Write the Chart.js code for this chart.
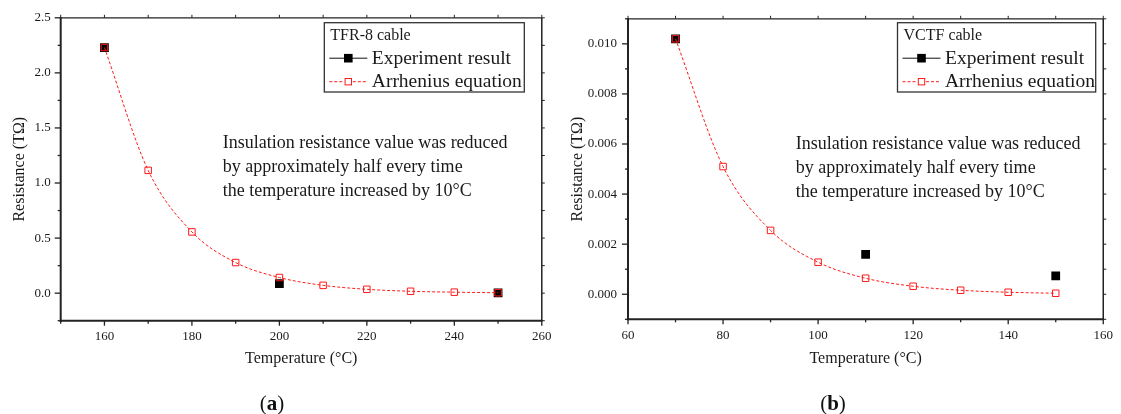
<!DOCTYPE html>
<html><head><meta charset="utf-8">
<script src="https://cdn.jsdelivr.net/npm/chart.js@4.4.1/dist/chart.umd.min.js"></script>
<style>
html,body{margin:0;padding:0;background:#fff;width:1121px;height:414px;overflow:hidden;}
#wrap{position:relative;width:1121px;height:414px;background:#fff;}
canvas{position:absolute;top:0;}
.cap{position:absolute;font-family:"Liberation Serif","Times New Roman",serif;font-size:21px;color:#111;transform:translate(-50%,-50%);white-space:nowrap;}
.cap b{font-weight:bold;}
</style></head><body>
<div id="wrap">
<canvas id="ca" width="560" height="414" style="left:0"></canvas>
<canvas id="cb" width="561" height="414" style="left:560px"></canvas>
<div class="cap" id="capA" style="left:272px;top:403px"></div>
<div class="cap" id="capB" style="left:833px;top:403px"></div>
</div>
<script>
// ---------- data ----------
const seriesNames = ['Experiment result', 'Arrhenius equation'];
const xTitle = 'Temperature (\u00B0C)';
const yTitle = 'Resistance (T\u03A9)';
const noteLines = ['Insulation resistance value was reduced', 'by approximately half every time', 'the temperature increased by 10\u00B0C'];

// (a) TFR-8 cable
const titleA = 'TFR-8 cable';
const captionA = 'a';
const tempsA = [160, 170, 180, 190, 200, 210, 220, 230, 240, 250];
const arrheniusA = [2.23, 1.115, 0.556, 0.278, 0.142, 0.071, 0.035, 0.017, 0.009, 0.004];
const expTempsA = [160, 200, 250];
const expA = [2.23, 0.087, 0.002];
const xTicksA = [160, 180, 200, 220, 240, 260];
const yTicksA = [0.0, 0.5, 1.0, 1.5, 2.0, 2.5];

// (b) VCTF cable
const titleB = 'VCTF cable';
const captionB = 'b';
const tempsB = [70, 80, 90, 100, 110, 120, 130, 140, 150];
const arrheniusB = [0.0102, 0.0051, 0.00255, 0.00128, 0.00064, 0.00032, 0.00016, 0.00008, 0.00004];
const expTempsB = [70, 110, 150];
const expB = [0.0102, 0.00159, 0.00073];
const xTicksB = [60, 80, 100, 120, 140, 160];
const yTicksB = [0.000, 0.002, 0.004, 0.006, 0.008, 0.010];

// ---------- rendering ----------
const FAM = '"Liberation Serif", "Times New Roman", serif';
const INK = '#1a1a1a';
const RED = '#ff1a1a';

document.getElementById('capA').innerHTML = '(<b>' + captionA + '</b>)';
document.getElementById('capB').innerHTML = '(<b>' + captionB + '</b>)';

function minorsOf(ticks) {
  const step = ticks[1] - ticks[0];
  const out = [];
  for (let i = -1; i < ticks.length; i++) {
    const base = i < 0 ? ticks[0] - step : ticks[i];
    out.push(base + step / 2);
  }
  return out;
}

const decor = {
  id: 'decor',
  afterDraw(chart, args, o) {
    const ctx = chart.ctx, a = chart.chartArea;
    const xs = chart.scales.x, ys = chart.scales.y;
    const inX = v => v >= xs.min - 1e-9 && v <= xs.max + 1e-9;
    const inY = v => v >= ys.min - 1e-12 && v <= ys.max + 1e-12;
    ctx.save();
    ctx.strokeStyle = '#222';
    function seg(x1, y1, x2, y2, w) {
      ctx.lineWidth = w; ctx.beginPath(); ctx.moveTo(x1, y1); ctx.lineTo(x2, y2); ctx.stroke();
    }
    // frame
    seg(a.left, a.top, a.right, a.top, 1.3);
    seg(a.right, a.top, a.right, a.bottom, 1.5);
    seg(a.left, a.top - 0.6, a.left, a.bottom + 1, 2);
    seg(a.left - 1, a.bottom, a.right + 0.7, a.bottom, 2);
    // x ticks
    o.xMajor.filter(inX).forEach(v => {
      const p = xs.getPixelForValue(v);
      seg(p, a.bottom, p, a.bottom + 5, 1.3);
      seg(p, a.top, p, a.top - 3, 1);
    });
    minorsOf(o.xMajor).filter(inX).forEach(v => {
      const p = xs.getPixelForValue(v);
      seg(p, a.bottom, p, a.bottom + 3, 1.3);
      seg(p, a.top, p, a.top - 3, 1);
    });
    // y ticks
    o.yMajor.filter(inY).forEach(v => {
      const p = ys.getPixelForValue(v);
      seg(a.left, p, a.left - 6, p, 1.3);
      seg(a.right, p, a.right + 3, p, 1);
    });
    minorsOf(o.yMajor).filter(inY).forEach(v => {
      const p = ys.getPixelForValue(v);
      seg(a.left, p, a.left - 3, p, 1.3);
      seg(a.right, p, a.right + 3, p, 1);
    });
    // annotation text
    ctx.fillStyle = INK;
    ctx.font = '18px ' + FAM;
    ctx.textBaseline = 'alphabetic';
    ctx.textAlign = 'left';
    o.note.forEach((t, i) => ctx.fillText(t, a.left + o.noteDx, o.noteY + i * 24));
    // legend box
    const [bx, by, bw, bh] = o.box;
    ctx.lineWidth = 1.3; ctx.strokeStyle = '#333';
    ctx.strokeRect(bx, by, bw, bh);
    ctx.font = '16px ' + FAM;
    ctx.fillText(o.title, bx + 6, by + 17.5);
    const ds = chart.data.datasets;
    const exp = ds.find(d => d.label === seriesNames[0]);
    const arr = ds.find(d => d.label === seriesNames[1]);
    // row 1 experiment
    let cy = by + 35.5;
    ctx.strokeStyle = '#111'; ctx.lineWidth = 1;
    seg(bx + 5, cy, bx + 43, cy, 1);
    ctx.fillStyle = '#000'; ctx.fillRect(bx + 24 - 4.3, cy - 4.3, 8.6, 8.6);
    ctx.fillStyle = INK; ctx.font = '19.5px ' + FAM;
    ctx.fillText(exp.label, bx + 47.5, cy + 5.5);
    // row 2 arrhenius
    cy = by + 59;
    ctx.strokeStyle = RED; ctx.setLineDash([3, 2]);
    seg(bx + 5, cy, bx + 19.5, cy, 1);
    seg(bx + 28.5, cy, bx + 43, cy, 1);
    ctx.setLineDash([]);
    ctx.strokeRect(bx + 24 - 3.2, cy - 3.2, 6.4, 6.4);
    ctx.fillStyle = INK;
    ctx.fillText(arr.label, bx + 47.5, cy + 5.5);
    ctx.restore();
  }
};

function makeChart(id, c) {
  const pts = (xs, ys) => xs.map((t, i) => ({x: t, y: ys[i]}));
  return new Chart(document.getElementById(id), {
    type: 'line',
    data: {
      datasets: [
        {
          label: seriesNames[1], data: pts(c.temps, c.arr), order: 0,
          borderColor: RED, borderWidth: 1, borderDash: [3, 2], fill: false,
          cubicInterpolationMode: 'monotone',
          pointStyle: 'rect', pointRadius: 4.6, pointBorderWidth: 1,
          pointBorderColor: RED, pointBackgroundColor: 'rgba(255,255,255,0)'
        },
        {
          label: seriesNames[0], data: pts(c.expT, c.exp), order: 1, showLine: false,
          pointStyle: 'rect', pointRadius: 6.2, pointBorderWidth: 0,
          pointBackgroundColor: '#000', pointBorderColor: '#000', borderColor: '#000'
        }
      ]
    },
    options: {
      responsive: false, animation: false, devicePixelRatio: 1,
      layout: {padding: {left: c.padL, top: 17, right: c.padR, bottom: 46}},
      plugins: {
        legend: {display: false}, tooltip: {enabled: false},
        decor: {xMajor: c.xTicks, yMajor: c.yTicks, note: noteLines, noteDx: c.noteDx, noteY: c.noteY, box: c.box, title: c.title}
      },
      scales: {
        x: {
          type: 'linear', min: c.xMin, max: c.xMax,
          afterBuildTicks: s => { s.ticks = c.xTicks.map(v => ({value: v})); },
          afterFit: s => { s.height = 414 - 46 - c.bottom; },
          grid: {display: false, drawTicks: false}, border: {display: false},
          ticks: {padding: 8, color: INK, font: {family: FAM, size: 13}, callback: v => String(v), maxRotation: 0, autoSkip: false},
          title: {display: true, text: xTitle, color: INK, font: {family: FAM, size: 16}, padding: 0}
        },
        y: {
          type: 'linear', min: c.yMin, max: c.yMax,
          afterBuildTicks: s => { s.ticks = c.yTicks.map(v => ({value: v})); },
          afterFit: s => { s.width = c.yW; },
          grid: {display: false, drawTicks: false}, border: {display: false},
          ticks: {padding: c.yPad, color: INK, font: {family: FAM, size: 13}, callback: v => v.toFixed(c.dec), autoSkip: false},
          title: {display: true, text: yTitle, color: INK, font: {family: FAM, size: 16}, padding: 0}
        }
      }
    },
    plugins: [decor]
  });
}

makeChart('ca', {
  temps: tempsA, arr: arrheniusA, expT: expTempsA, exp: expA,
  xTicks: xTicksA, yTicks: yTicksA, xMin: 150, xMax: 260, yMin: -0.25, yMax: 2.5, dec: 1,
  padL: 10, padR: 18.2, yW: 50.7, yPad: 10, bottom: 320.7,
  noteDx: 162, noteY: 147.5, box: [324.3, 22.7, 200, 69.3], title: titleA
});
makeChart('cb', {
  temps: tempsB, arr: arrheniusB, expT: expTempsB, exp: expB,
  xTicks: xTicksB, yTicks: yTicksB, xMin: 60, xMax: 160, yMin: -0.001, yMax: 0.011, dec: 3,
  padL: 8.4, padR: 13, yW: 59.6, yPad: 11, bottom: 319.3,
  noteDx: 167.7, noteY: 149, box: [337.5, 22.7, 198.2, 69.3], title: titleB
});
</script>
</body></html>
